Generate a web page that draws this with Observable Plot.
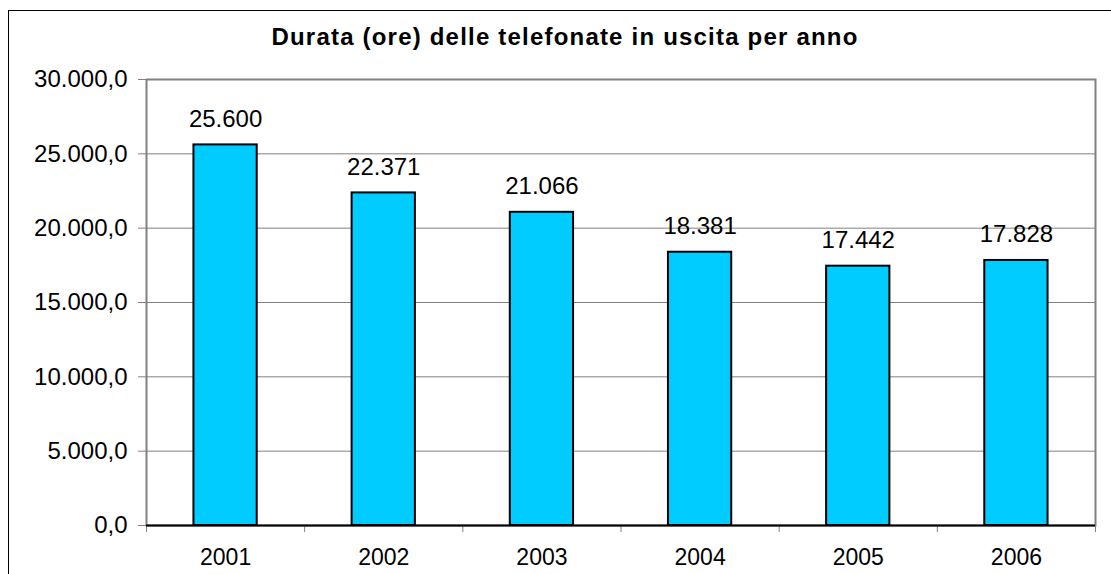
<!DOCTYPE html>
<html>
<head>
<meta charset="utf-8">
<script src="https://cdn.jsdelivr.net/npm/d3@7"></script>
<script src="https://cdn.jsdelivr.net/npm/@observablehq/plot@0.6"></script>
<style>
  html, body { margin: 0; padding: 0; background: #fff; overflow: hidden; }
  #wrap { position: relative; width: 1111px; height: 574px; overflow: hidden; font-family: "Liberation Sans", Arial, sans-serif; }
  #border { position: absolute; left: 8px; top: 10px; width: 1200px; height: 700px; border: 1px solid #000; box-sizing: border-box; }
  #title { position: relative; height: 46px; padding-top: 14px; line-height: 46px; text-align: center; padding-left: 19px;
           font-weight: bold; font-size: 24px; letter-spacing: 1.2px; color: #000; }
  #chart { position: relative; }
</style>
</head>
<body>
<div id="wrap">
  <div id="border"></div>
  <div id="title"></div>
  <div id="chart"></div>
</div>
<script>
const titleText = "Durata (ore) delle telefonate in uscita per anno";
const years = [2001, 2002, 2003, 2004, 2005, 2006];
const hours = [25600, 22371, 21066, 18381, 17442, 17828];
const yTicks = [0, 5000, 10000, 15000, 20000, 25000, 30000];

const it = d3.formatLocale({decimal: ",", thousands: ".", grouping: [3], currency: ["", "€"]});
const fmtTick = it.format(",.1f");
const fmtVal = it.format(",.0f");

document.getElementById("title").textContent = titleText;

const data = years.map((y, i) => ({year: y, value: hours[i]}));
const half = 0.2;
const boundaries = [years[0] - 0.5, ...years.map(y => y + 0.5)];

const chart = Plot.plot({
  width: 1111,
  height: 514,
  marginLeft: 146,
  marginRight: 16,
  marginTop: 19,
  marginBottom: 49,
  style: {fontFamily: "'Liberation Sans', Arial, sans-serif", fontSize: "22px", color: "#000", background: "transparent"},
  x: {domain: [years[0] - 0.5, years[years.length - 1] + 0.5], axis: null, label: null},
  y: {domain: [0, 30000], axis: null, label: null},
  marks: [
    Plot.gridY(yTicks, {stroke: "#808080", strokeOpacity: 1, strokeWidth: 1}),
    Plot.frame({stroke: "#808080", strokeWidth: 2}),
    Plot.axisY(yTicks, {tickFormat: fmtTick, tickSize: 8, tickPadding: 11, stroke: "#808080", fontSize: 24, fill: "#000", label: null, style: {letterSpacing: "0.8px"}}),
    Plot.axisX(boundaries, {tickFormat: () => "", tickSize: 7, stroke: "#808080", label: null}),
    Plot.axisX(years, {tickFormat: d => String(d), tickSize: 0, tickPadding: 23, fontSize: 23, fill: "#000", label: null}),
    Plot.rectY(data, {x1: d => d.year - half, x2: d => d.year + half, y1: 0, y2: "value", fill: "#00CCFF", stroke: "#000", strokeWidth: 2}),
    Plot.ruleY([0], {stroke: "#000", strokeWidth: 2}),
    Plot.text(data, {x: "year", y: "value", text: d => fmtVal(d.value), lineAnchor: "bottom", dy: -18, fontSize: 24, fill: "#000", style: {letterSpacing: "0.3px"}})
  ]
});
document.getElementById("chart").appendChild(chart);
</script>
</body>
</html>
